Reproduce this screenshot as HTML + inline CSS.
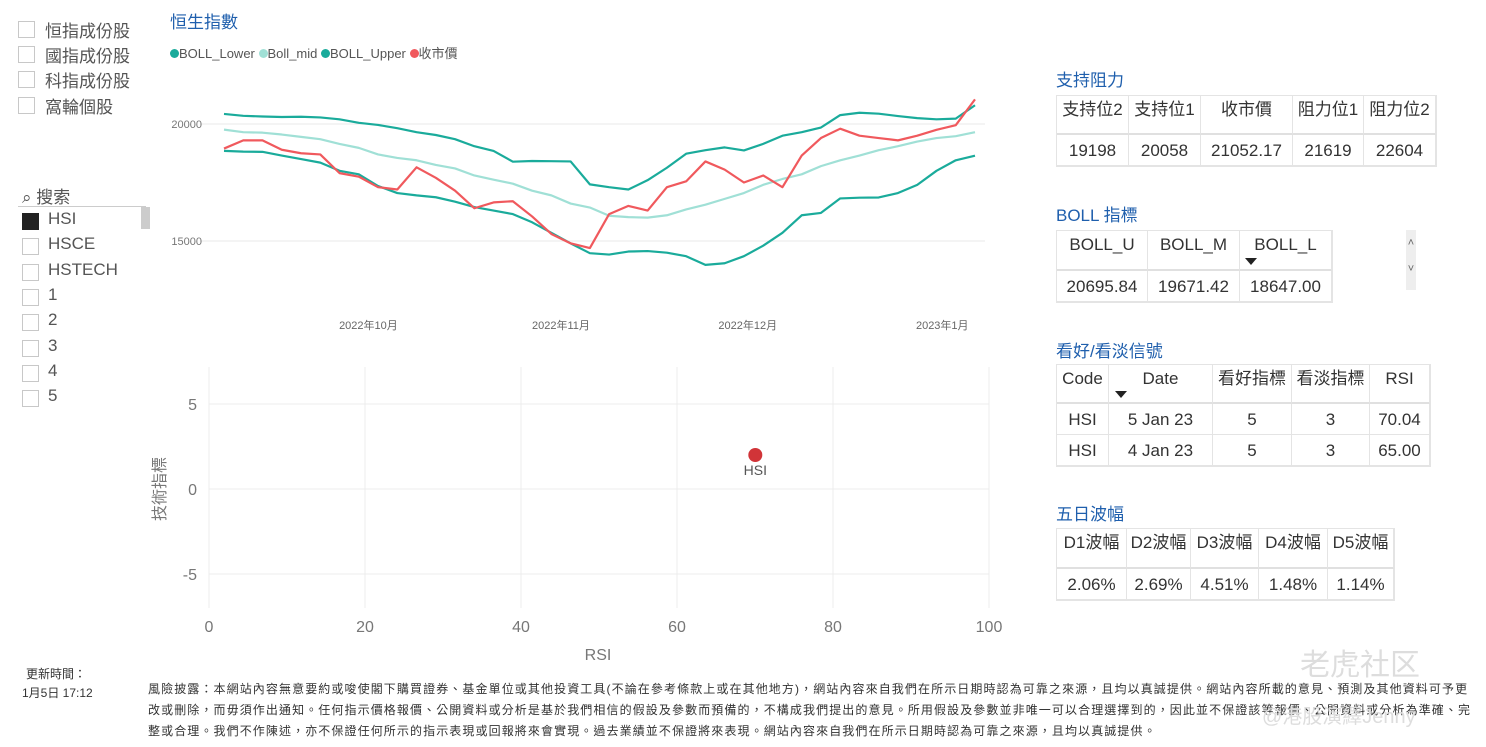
<!DOCTYPE html>
<html><head><meta charset="utf-8">
<style>
body{margin:0;width:1486px;height:747px;background:#fff;position:relative;overflow:hidden;font-family:"Liberation Sans","Noto Sans CJK TC",sans-serif;color:#333}
.a{position:absolute;white-space:nowrap}
.cb{position:absolute;width:15px;height:15px;border:1px solid #c8c8c8;background:#fff}
.t{position:absolute;font-size:17px;color:#1f5fad}
.cell{position:absolute;box-sizing:border-box;border-right:1px solid #e4e4e4;border-bottom:1px solid #e4e4e4;font-size:17px;color:#333;text-align:center;line-height:30px}
.tbl{position:absolute;border:1px solid #e4e4e4}
</style></head><body>
<div class="cb" style="left:18px;top:21px"></div>
<div class="a" style="left:45px;top:17px;font-size:17px;color:#555">恒指成份股</div>
<div class="cb" style="left:18px;top:46px"></div>
<div class="a" style="left:45px;top:42px;font-size:17px;color:#555">國指成份股</div>
<div class="cb" style="left:18px;top:71px"></div>
<div class="a" style="left:45px;top:67px;font-size:17px;color:#555">科指成份股</div>
<div class="cb" style="left:18px;top:97px"></div>
<div class="a" style="left:45px;top:93px;font-size:17px;color:#555">窩輪個股</div>

<div class="a" style="left:22px;top:183px;font-size:17px;color:#555">⌕ 搜索</div>
<div class="a" style="left:18px;top:206px;width:128px;height:1px;background:#ccc"></div>
<div class="a" style="left:141px;top:207px;width:9px;height:22px;background:#ccc"></div>
<div id="slicer"></div>

<div class="t" style="left:170px;top:8px">恒生指數</div>
<div class="a" style="left:170px;top:43px;font-size:13px;color:#555">
<span><span style="display:inline-block;width:9px;height:9px;border-radius:5px;background:#1aab9b"></span>BOLL_Lower</span>
<span><span style="display:inline-block;width:9px;height:9px;border-radius:5px;background:#a0e0d6"></span>Boll_mid</span>
<span><span style="display:inline-block;width:9px;height:9px;border-radius:5px;background:#1aab9b"></span>BOLL_Upper</span>
<span><span style="display:inline-block;width:9px;height:9px;border-radius:5px;background:#f0595d"></span>收市價</span>
</div>
<svg id="line" class="a" style="left:0;top:0" width="1000" height="345"></svg>
<svg id="scat" class="a" style="left:0;top:350px" width="1010" height="320"></svg>

<div class="t" style="left:1056px;top:66px">支持阻力</div>
<div class="t" style="left:1056px;top:201px">BOLL 指標</div>
<div class="t" style="left:1056px;top:337px">看好/看淡信號</div>
<div class="t" style="left:1056px;top:500px">五日波幅</div>
<div class="a" style="left:1406px;top:230px;width:10px;height:60px;background:#eee;font-size:11px;color:#666;text-align:center;line-height:26px">˄<br>˅</div>
<div id="tables"></div>

<div class="a" style="left:26px;top:665px;font-size:12px;color:#333">更新時間：</div>
<div class="a" style="left:22px;top:684px;font-size:12px;color:#333">1月5日 17:12</div>
<div class="a" style="left:148px;top:679px;width:1330px;font-size:12px;letter-spacing:1.1px;line-height:21px;white-space:normal;color:#333">風險披露：本網站內容無意要約或唆使閣下購買證券、基金單位或其他投資工具(不論在參考條款上或在其他地方)，網站內容來自我們在所示日期時認為可靠之來源，且均以真誠提供。網站內容所載的意見、預測及其他資料可予更改或刪除，而毋須作出通知。任何指示價格報價、公開資料或分析是基於我們相信的假設及參數而預備的，不構成我們提出的意見。所用假設及參數並非唯一可以合理選擇到的，因此並不保證該等報價、公開資料或分析為準確、完整或合理。我們不作陳述，亦不保證任何所示的指示表現或回報將來會實現。過去業績並不保證將來表現。網站內容來自我們在所示日期時認為可靠之來源，且均以真誠提供。</div>
<div class="a" style="left:1300px;top:640px;font-size:30px;color:#ddd">老虎社区</div>
<div class="a" style="left:1262px;top:700px;font-size:20px;color:#ddd">@港股演繹Jenny</div>

<script>
const NS="http://www.w3.org/2000/svg";
function mk(p,tag,at){const e=document.createElementNS(NS,tag);for(const k in at)e.setAttribute(k,at[k]);p.appendChild(e);return e;}
const slicerItems=["HSI","HSCE","HSTECH","1","2","3","4","5"];
const sl=document.getElementById('slicer');
slicerItems.forEach((s,i)=>{
 const y=213+i*25.3;
 const c=document.createElement('div');c.className='cb';c.style.left='22px';c.style.top=y+'px';
 if(i===0){c.style.background='#222';c.style.borderColor='#222';}
 
 
 sl.appendChild(c);
 const l=document.createElement('div');l.className='a';l.style.left='48px';l.style.top=(y-4)+'px';l.style.fontSize='17px';l.style.color='#555';l.textContent=s;
 
 
 sl.appendChild(l);
});

const upperVals=[20430,20350,20320,20300,20310,20280,20200,20050,19960,19820,19650,19530,19350,19050,18850,18390,18420,18410,18400,17420,17300,17200,17600,18130,18730,18880,19000,18870,19150,19500,19650,19850,20380,20480,20440,20340,20250,20200,20230,20800];
const midVals=[19760,19650,19630,19550,19450,19350,19150,18980,18700,18550,18450,18250,18100,17800,17620,17450,17150,16950,16600,16430,16080,16020,16000,16100,16350,16550,16800,17050,17400,17650,17850,18200,18450,18650,18880,19050,19250,19400,19480,19650];
const lowerVals=[18850,18820,18810,18650,18500,18350,18000,17850,17350,17050,16950,16870,16680,16450,16300,16150,15800,15350,14900,14480,14420,14550,14570,14500,14350,13980,14050,14350,14800,15350,16100,16200,16820,16850,16860,17050,17400,18000,18450,18647];
const closeVals=[18950,19300,19300,18900,18750,18700,17900,17750,17300,17200,18150,17700,17150,16400,16650,16700,16050,15300,14900,14700,16150,16500,16300,17300,17550,18400,18050,17500,17800,17300,18650,19400,19800,19500,19400,19300,19500,19750,19950,21052];
const yTicks=[15000,20000];
const xLabels=["2022年10月","2022年11月","2022年12月","2023年1月"];
const xLabelIdx=[7.5,17.5,27.2,37.3];
const L=document.getElementById('line');
const lx=i=>224+i*(975-224)/(closeVals.length-1);
const ly=v=>124+(20000-v)*117/5000;
yTicks.forEach(t=>{
 const g=mk(L,'line',{x1:200,x2:985,y1:ly(t),y2:ly(t),stroke:'#e8e8e8','stroke-width':1});
 
 
 const tx=mk(L,'text',{x:202,y:ly(t)+4,'text-anchor':'end','font-size':11,fill:'#777'});tx.textContent=t;
 
 
});
xLabels.forEach((s,i)=>{
 const tx=mk(L,'text',{x:lx(xLabelIdx[i]),y:329,'text-anchor':'middle','font-size':11,fill:'#666'});tx.textContent=s;
 
 
});
[[upperVals,'#1aab9b','upper'],[midVals,'#a0e0d6','mid'],[lowerVals,'#1aab9b','lower'],[closeVals,'#f0595d','close']].forEach(([vals,c,n])=>{
 const p=mk(L,'polyline',{points:vals.map((v,i)=>lx(i)+','+ly(v)).join(' '),fill:'none',stroke:c,'stroke-width':2.2,'stroke-linejoin':'round'});
 
 
});

const rsiVals=[70.04];
const techVals=[2];
const pointLabels=["HSI"];
const sxTicks=[0,20,40,60,80,100];
const syTicks=[5,0,-5];
const S=document.getElementById('scat');
const sx=v=>209+v*7.8;
const sy=v=>139-v*17;
sxTicks.forEach(t=>{
 const g=mk(S,'line',{x1:sx(t),x2:sx(t),y1:17,y2:258,stroke:'#ececec'});
 
 
 const tx=mk(S,'text',{x:sx(t),y:282,'text-anchor':'middle','font-size':16,fill:'#777'});tx.textContent=t;
 
 
});
syTicks.forEach(t=>{
 const g=mk(S,'line',{x1:209,x2:989,y1:sy(t),y2:sy(t),stroke:'#ececec'});
 
 
 const tx=mk(S,'text',{x:197,y:sy(t)+6,'text-anchor':'end','font-size':16,fill:'#777'});tx.textContent=t;
 
 
});
const xt=mk(S,'text',{x:598,y:310,'text-anchor':'middle','font-size':16,fill:'#777'});xt.textContent='RSI';


const yt=mk(S,'text',{x:0,y:0,'text-anchor':'middle','font-size':16,fill:'#777',transform:'translate(165,139) rotate(-90)'});yt.textContent='技術指標';


rsiVals.forEach((r,i)=>{
 const c=mk(S,'circle',{cx:sx(r),cy:sy(techVals[i]),r:7,fill:'#d13438'});
 
 
 const tx=mk(S,'text',{x:sx(r),y:sy(techVals[i])+20,'text-anchor':'middle','font-size':14,fill:'#555'});tx.textContent=pointLabels[i];
 
 
});

const T=document.getElementById('tables');
function table(name,x,y,cols,rows,rh){
 const w=cols[cols.length-1]-cols[0];
 const b=document.createElement('div');b.className='tbl';b.style.left=x+'px';b.style.top=y+'px';b.style.width=w+'px';b.style.height=rh.reduce((a,c)=>a+c,0)+'px';
 
 
 T.appendChild(b);
 let yy=0;
 rows.forEach((r,ri)=>{
  r.forEach((v,ci)=>{
   const c=document.createElement('div');c.className='cell';
   c.style.left=(cols[ci]-cols[0])+'px';c.style.top=yy+'px';c.style.width=(cols[ci+1]-cols[ci])+'px';c.style.height=rh[ri]+'px';
   c.style.lineHeight=(ri===0?28:rh[ri])+'px';
   if(ri===0&&rh[0]>35)c.style.borderBottom='2px solid #e0e0e0';
   c.textContent=v;
   
   
   b.appendChild(c);
  });
  yy+=rh[ri];
 });
 return b;
}
table('support-resistance-table',1056,95,[1056,1128,1200,1292,1363,1435],[["支持位2","支持位1","收市價","阻力位1","阻力位2"],["19198","20058","21052.17","21619","22604"]],[39,31]);
table('boll-table',1056,230,[1056,1147,1239,1331],[["BOLL_U","BOLL_M","BOLL_L"],["20695.84","19671.42","18647.00"]],[40,31]);
table('signal-table',1056,364,[1056,1108,1212,1291,1369,1429],[["Code","Date","看好指標","看淡指標","RSI"],["HSI","5 Jan 23","5","3","70.04"],["HSI","4 Jan 23","5","3","65.00"]],[39,31,31]);
table('five-day-range-table',1056,528,[1056,1126,1190,1258,1327,1393],[["D1波幅","D2波幅","D3波幅","D4波幅","D5波幅"],["2.06%","2.69%","4.51%","1.48%","1.14%"]],[40,31]);
[[1245,258],[1115,391]].forEach(([x,y],i)=>{
 const s=document.createElement('div');s.className='a';s.style.left=x+'px';s.style.top=y+'px';s.style.width='0';s.style.height='0';
 s.style.borderLeft='6px solid transparent';s.style.borderRight='6px solid transparent';s.style.borderTop='7px solid #222';
 
 
 T.appendChild(s);
});
</script>
</body></html>
